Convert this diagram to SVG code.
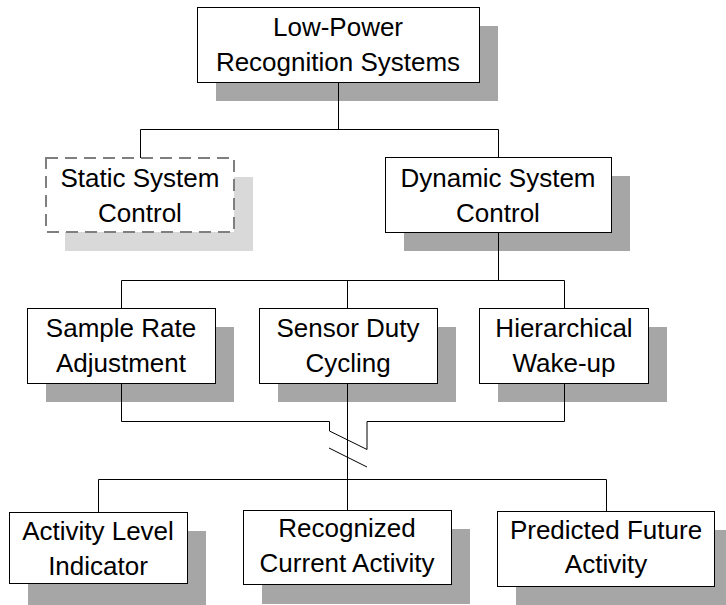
<svg xmlns="http://www.w3.org/2000/svg" width="726" height="605" viewBox="0 0 726 605">
<style>
.shadow{fill:#a6a6a6;stroke:none}
.shadow-light{fill:#d9d9d9;stroke:none}
.box{fill:#ffffff;stroke:#000000;stroke-width:1}
.box-dashed{fill:#ffffff;stroke:#7f7f7f;stroke-width:2;stroke-dasharray:12,7}
.label{font-family:"Liberation Sans",Arial,sans-serif;font-size:26px;fill:#000000;text-anchor:middle}
.conn{fill:none;stroke:#000000;stroke-width:1}
</style>
<rect width="726" height="605" fill="#ffffff"/>

<g id="node-top">
<rect class="shadow" x="216" y="26" width="282" height="75"/>
<rect class="box" x="197.5" y="7.5" width="282" height="75"/>
<text class="label" x="338" y="36">Low-Power</text>
<text class="label" x="338" y="71">Recognition Systems</text>
</g>

<g id="node-static">
<rect class="shadow-light" x="65" y="177" width="188" height="74"/>
<rect class="box-dashed" x="46" y="158" width="188" height="74"/>
<text class="label" x="140" y="187">Static System</text>
<text class="label" x="140" y="222">Control</text>
</g>

<g id="node-dynamic">
<rect class="shadow" x="404" y="176" width="226" height="75"/>
<rect class="box" x="385.5" y="157.5" width="226" height="75"/>
<text class="label" x="498" y="187">Dynamic System</text>
<text class="label" x="498" y="222">Control</text>
</g>

<g id="node-sample">
<rect class="shadow" x="46" y="327" width="188" height="75"/>
<rect class="box" x="27.5" y="308.5" width="188" height="75"/>
<text class="label" x="121" y="337">Sample Rate</text>
<text class="label" x="121" y="372">Adjustment</text>
</g>

<g id="node-sensor">
<rect class="shadow" x="278" y="327" width="178" height="75"/>
<rect class="box" x="259.5" y="308.5" width="178" height="75"/>
<text class="label" x="348" y="337">Sensor Duty</text>
<text class="label" x="348" y="372">Cycling</text>
</g>

<g id="node-hier">
<rect class="shadow" x="498" y="327" width="169" height="75"/>
<rect class="box" x="479.5" y="308.5" width="169" height="75"/>
<text class="label" x="564" y="337">Hierarchical</text>
<text class="label" x="564" y="372">Wake-up</text>
</g>

<g id="node-activity">
<rect class="shadow" x="28" y="531" width="178" height="74"/>
<rect class="box" x="9.5" y="512.5" width="178" height="71"/>
<text class="label" x="98" y="540">Activity Level</text>
<text class="label" x="98" y="575">Indicator</text>
</g>

<g id="node-recognized">
<rect class="shadow" x="262" y="529" width="208" height="75"/>
<rect class="box" x="243.5" y="510.5" width="208" height="74"/>
<text class="label" x="347" y="537">Recognized</text>
<text class="label" x="347" y="572">Current Activity</text>
</g>

<g id="node-predicted">
<rect class="shadow" x="516" y="530" width="217" height="75"/>
<rect class="box" x="497.5" y="511.5" width="217" height="75"/>
<text class="label" x="606" y="539">Predicted Future</text>
<text class="label" x="606" y="573">Activity</text>
</g>

<g id="connectors">
<path class="conn" d="M338.5,82.5 V129.5 M140.5,158 V129.5 H498.5 V157.5"/>
<path class="conn" d="M498.5,232.5 V280.5 M121.5,308.5 V280.5 H564.5 V308.5 M347.5,280.5 V308.5"/>
<path class="conn" d="M121.5,383.5 V421.5 H329.5 V431 L367,449.5 V421.5 H564.5 V383.5"/>
<path class="conn" d="M329,448 L367,467"/>
<path class="conn" d="M347.5,383.5 V510.5"/>
<path class="conn" d="M98.5,512.5 V479.5 H606.5 V511.5"/>
</g>
</svg>
